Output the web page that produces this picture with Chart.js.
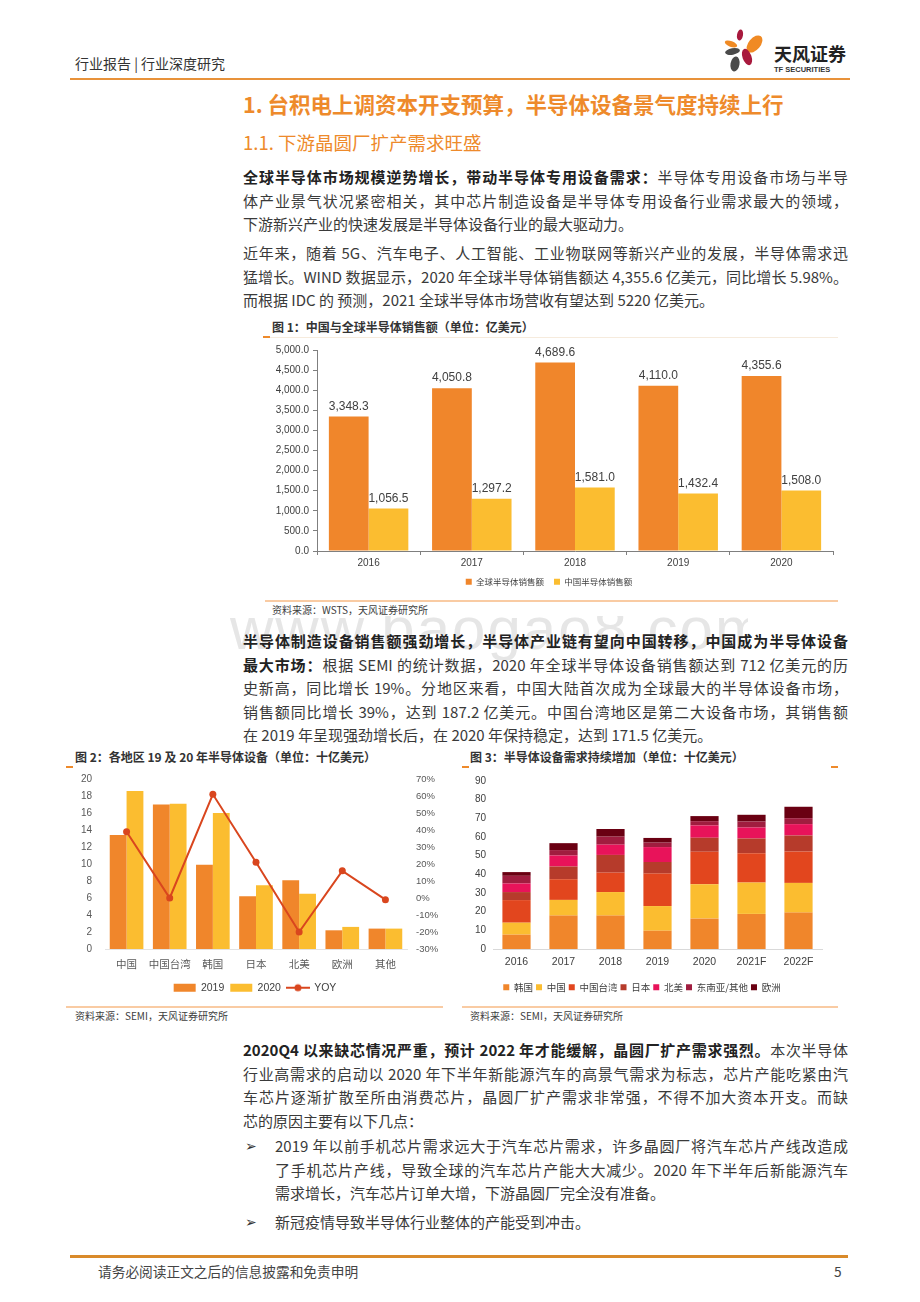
<!DOCTYPE html>
<html lang="zh-CN">
<head>
<meta charset="utf-8">
<title>半导体设备景气度</title>
<script src="https://cdn.jsdelivr.net/npm/chart.js@4.4.1/dist/chart.umd.min.js"></script>
<style>
  html, body { margin: 0; padding: 0; background: #fff; }
  body { width: 920px; height: 1302px; position: relative; overflow: hidden;
    font-family: "Noto Sans CJK SC", "Noto Sans", sans-serif; color: #3a3a3a; }
  .abs { position: absolute; }
  .hdr { left: 75px; top: 53px; font-size: 14px; line-height: 20px; color: #333; }
  .hdr-line { left: 70px; top: 78px; width: 780px; height: 2px; background: #E8923A; }
  .h1 { left: 243px; top: 89px; font-size: 21.5px; line-height: 30px; font-weight: bold; color: #EE8A2B; }
  .h2 { left: 243px; top: 129px; font-size: 18.5px; line-height: 26px; color: #EE8A2B; }
  .para { left: 243px; width: 605px; font-size: 15px; line-height: 23.5px; }
  .para .ln { text-align: justify; text-align-last: justify; }
  .para b { color: #222; font-weight: bold; }
  .bul { left: 245px; font-size: 14px; line-height: 23.5px; color: #333; }
  .bul-txt { left: 275px; width: 573px; font-size: 15px; line-height: 23.5px; }
  .bul-txt .ln { text-align: justify; text-align-last: justify; }
  .ftitle { font-size: 12px; line-height: 16px; font-weight: bold; color: #333; }
  .dash { height: 2px; width: 7px; background: #EE8A2B; }
  .faint { height: 1px; background: #F6EBDD; }
  .srcline { height: 2px; background: #F9CBA3; }
  .src { font-size: 10px; line-height: 14px; color: #404040; }
  .wm-box { left: 228px; top: 616px; width: 520px; height: 44px; overflow: hidden; }
  .wm { left: 2px; top: -17px; font-family: "Liberation Sans", Arial, sans-serif; font-size: 60px;
    line-height: 60px; color: #e6e6e6; letter-spacing: 2px; white-space: nowrap; }
  .foot-line { left: 70px; top: 1255px; width: 778px; height: 3px; background: #D98A2A; }
  .foot { top: 1261px; font-size: 13.7px; line-height: 20px; color: #444; }
  canvas.abs { display: block; }
</style>
</head>
<body>

<!-- 页眉 -->
<div class="abs hdr">行业报告 | 行业深度研究</div>
<svg class="abs" style="left:720px;top:28px" width="50" height="46" viewBox="0 0 50 46">
  <ellipse cx="20" cy="7" rx="3" ry="5.5" fill="#A8193D" transform="rotate(10 20 7)"/>
  <ellipse cx="34.5" cy="16" rx="6" ry="10" fill="#F08A24" transform="rotate(40 34.5 16)"/>
  <ellipse cx="11" cy="16" rx="2.8" ry="6.5" fill="#F08A24" transform="rotate(-70 11 16)"/>
  <ellipse cx="12.5" cy="23.5" rx="3.2" ry="7.5" fill="#4A4A4A" transform="rotate(80 12.5 23.5)"/>
  <ellipse cx="27" cy="29" rx="4.5" ry="8.5" fill="#A8193D" transform="rotate(-20 27 29)"/>
  <ellipse cx="15" cy="36" rx="4.5" ry="7.5" fill="#4A4A4A" transform="rotate(10 15 36)"/>
</svg>
<div class="abs" style="left:774px;top:42px;font-size:18px;line-height:22px;font-weight:bold;color:#222;">天风证券</div>
<div class="abs" style="left:774px;top:65px;font-family:'Liberation Sans',Arial,sans-serif;font-size:7.5px;line-height:10px;font-weight:bold;color:#333;">TF SECURITIES</div>
<div class="abs hdr-line"></div>

<div class="abs h1">1. 台积电上调资本开支预算，半导体设备景气度持续上行</div>
<div class="abs h2">1.1. 下游晶圆厂扩产需求旺盛</div>

<div class="abs para" style="top:165px">
  <div class="ln"><b>全球半导体市场规模逆势增长，带动半导体专用设备需求：</b>半导体专用设备市场与半导</div>
  <div class="ln">体产业景气状况紧密相关，其中芯片制造设备是半导体专用设备行业需求最大的领域，</div>
  <div>下游新兴产业的快速发展是半导体设备行业的最大驱动力。</div>
</div>

<div class="abs para" style="top:241px">
  <div class="ln">近年来，随着 5G、汽车电子、人工智能、工业物联网等新兴产业的发展，半导体需求迅</div>
  <div class="ln">猛增长。WIND 数据显示，2020 年全球半导体销售额达 4,355.6 亿美元，同比增长 5.98%。</div>
  <div>而根据 IDC 的 预测，2021 全球半导体市场营收有望达到 5220 亿美元。</div>
</div>

<!-- 图1 -->
<div class="abs ftitle" style="left:272px;top:319px">图 1：中国与全球半导体销售额（单位：亿美元）</div>
<div class="abs faint" style="left:265px;top:337px;width:573px"></div>
<div class="abs dash" style="left:263px;top:336px"></div>
<canvas id="fig1" class="abs" style="left:265px;top:340px" width="573" height="256"></canvas>
<div class="abs srcline" style="left:265px;top:600px;width:573px"></div>
<div class="abs src" style="left:272px;top:603px">资料来源：WSTS，天风证券研究所</div>

<div class="abs wm-box"><div class="abs wm">www.baogao8.com</div></div>

<div class="abs para" style="top:629px">
  <div class="ln"><b>半导体制造设备销售额强劲增长，半导体产业链有望向中国转移，中国成为半导体设备</b></div>
  <div class="ln"><b>最大市场：</b>根据 SEMI 的统计数据，2020 年全球半导体设备销售额达到 712 亿美元的历</div>
  <div class="ln">史新高，同比增长 19%。分地区来看，中国大陆首次成为全球最大的半导体设备市场，</div>
  <div class="ln">销售额同比增长 39%，达到 187.2 亿美元。中国台湾地区是第二大设备市场，其销售额</div>
  <div>在 2019 年呈现强劲增长后，在 2020 年保持稳定，达到 171.5 亿美元。</div>
</div>

<!-- 图2 -->
<div class="abs ftitle" style="left:75px;top:749px">图 2：各地区 19 及 20 年半导体设备（单位：十亿美元）</div>
<div class="abs dash" style="left:66px;top:766px"></div>
<canvas id="fig2" class="abs" style="left:65px;top:770px" width="380" height="233"></canvas>
<div class="abs srcline" style="left:66px;top:1006px;width:377px"></div>
<div class="abs src" style="left:75px;top:1009px">资料来源：SEMI，天风证券研究所</div>

<!-- 图3 -->
<div class="abs ftitle" style="left:470px;top:749px">图 3：半导体设备需求持续增加（单位：十亿美元）</div>
<div class="abs dash" style="left:462px;top:766px"></div>
<div class="abs dash" style="left:831px;top:766px"></div>
<canvas id="fig3" class="abs" style="left:462px;top:770px" width="376" height="232"></canvas>
<div class="abs srcline" style="left:462px;top:1006px;width:376px"></div>
<div class="abs src" style="left:470px;top:1009px">资料来源：SEMI，天风证券研究所</div>

<div class="abs para" style="top:1038px">
  <div class="ln"><b>2020Q4 以来缺芯情况严重，预计 2022 年才能缓解，晶圆厂扩产需求强烈。</b>本次半导体</div>
  <div class="ln">行业高需求的启动以 2020 年下半年新能源汽车的高景气需求为标志，芯片产能吃紧由汽</div>
  <div class="ln">车芯片逐渐扩散至所由消费芯片，晶圆厂扩产需求非常强，不得不加大资本开支。而缺</div>
  <div>芯的原因主要有以下几点：</div>
</div>

<div class="abs bul" style="top:1134px">➢</div>
<div class="abs bul-txt" style="top:1134px">
  <div class="ln">2019 年以前手机芯片需求远大于汽车芯片需求，许多晶圆厂将汽车芯片产线改造成</div>
  <div class="ln">了手机芯片产线，导致全球的汽车芯片产能大大减少。2020 年下半年后新能源汽车</div>
  <div>需求增长，汽车芯片订单大增，下游晶圆厂完全没有准备。</div>
</div>
<div class="abs bul" style="top:1210px">➢</div>
<div class="abs bul-txt" style="top:1210px">
  <div>新冠疫情导致半导体行业整体的产能受到冲击。</div>
</div>

<div class="abs foot-line"></div>
<div class="abs foot" style="left:98px">请务必阅读正文之后的信息披露和免责申明</div>
<div class="abs foot" style="left:834px">5</div>

<script>
// 图1：中国与全球半导体销售额（亿美元）
const fig1Years = ['2016', '2017', '2018', '2019', '2020'];
const fig1Global = [3348.3, 4050.8, 4689.6, 4110.0, 4355.6];
const fig1China = [1056.5, 1297.2, 1581.0, 1432.4, 1508.0];

// 图2：各地区 19 及 20 年半导体设备（十亿美元）
const fig2Regions = ['中国', '中国台湾', '韩国', '日本', '北美', '欧洲', '其他'];
const fig2Sales2019 = [13.4, 17.0, 9.9, 6.2, 8.1, 2.2, 2.4];
const fig2Sales2020 = [18.6, 17.1, 16.0, 7.5, 6.5, 2.6, 2.4];
const fig2Yoy = [0.39, 0.00, 0.61, 0.21, -0.20, 0.16, -0.01];

// 图3：半导体设备需求（十亿美元）
const fig3Years = ['2016', '2017', '2018', '2019', '2020', '2021F', '2022F'];
const fig3Korea = [7.7, 17.9, 17.9, 9.8, 16.3, 18.8, 19.5];
const fig3China = [6.4, 8.4, 12.6, 13.2, 18.4, 16.8, 15.9];
const fig3Taiwan = [12.1, 11.1, 10.4, 17.4, 17.4, 15.7, 16.8];
const fig3Japan = [4.3, 6.8, 9.5, 6.2, 7.5, 7.9, 8.6];
const fig3NorthAmerica = [4.6, 5.9, 5.5, 8.0, 6.6, 5.9, 6.1];
const fig3SeaOther = [4.1, 2.9, 4.3, 2.4, 2.3, 3.2, 3.2];
const fig3Europe = [2.0, 3.7, 4.1, 2.5, 2.7, 3.6, 6.1];

const NUM_FONT = "'Liberation Sans', Arial, sans-serif";
const CJK_FONT = "'Noto Sans CJK SC', 'Noto Sans', sans-serif";
const ORANGE = '#F0862B';
const YELLOW = '#FBBD30';

Chart.defaults.animation = false;
Chart.defaults.font.family = NUM_FONT;
Chart.defaults.color = '#595959';
Chart.defaults.plugins.tooltip.enabled = false;

function fmt1(v) {
  return v.toLocaleString('en-US', { minimumFractionDigits: 1, maximumFractionDigits: 1 });
}

// bar value labels (no datalabels plugin available offline)
const barValueLabels = {
  id: 'barValueLabels',
  afterDatasetsDraw(chart) {
    const ctx = chart.ctx;
    ctx.save();
    ctx.font = '12px ' + NUM_FONT;
    ctx.fillStyle = '#404040';
    ctx.textAlign = 'center';
    ctx.textBaseline = 'bottom';
    chart.data.datasets.forEach((ds, i) => {
      chart.getDatasetMeta(i).data.forEach((bar, j) => {
        ctx.fillText(fmt1(ds.data[j]), bar.x, bar.y - 4);
      });
    });
    ctx.restore();
  }
};

// Figure 1
new Chart(document.getElementById('fig1'), {
  type: 'bar',
  data: {
    labels: fig1Years,
    datasets: [
      { label: '全球半导体销售额', data: fig1Global, backgroundColor: ORANGE,
        categoryPercentage: 0.77, barPercentage: 1.0 },
      { label: '中国半导体销售额', data: fig1China, backgroundColor: YELLOW,
        categoryPercentage: 0.77, barPercentage: 1.0 }
    ]
  },
  options: {
    responsive: false,
    layout: { padding: { top: 10, right: 5, left: 0, bottom: 0 } },
    plugins: {
      legend: {
        position: 'bottom',
        labels: { boxWidth: 6, boxHeight: 6, padding: 10, color: '#404040',
          font: { family: CJK_FONT, size: 8.5 } }
      }
    },
    scales: {
      x: {
        grid: { drawOnChartArea: false, drawTicks: true, tickLength: 4, color: '#7f7f7f' },
        border: { color: '#7f7f7f' },
        ticks: { padding: 2, font: { size: 10 }, color: '#404040' },
        afterFit(scale) { scale.height = 16.5; }
      },
      y: {
        min: 0, max: 5000,
        grid: { drawOnChartArea: false, drawTicks: true, tickLength: 4, color: '#7f7f7f' },
        border: { color: '#7f7f7f' },
        ticks: { stepSize: 500, padding: 4, font: { size: 10 }, color: '#404040',
          callback: v => fmt1(v) },
        afterFit(scale) { scale.width = 52; }
      }
    }
  },
  plugins: [barValueLabels]
});

// legend icon for the YOY line: short line with a dot
const yoyIcon = document.createElement('canvas');
yoyIcon.width = 24;
yoyIcon.height = 10;
(function() {
  const c = yoyIcon.getContext('2d');
  c.strokeStyle = '#D9461E';
  c.fillStyle = '#D9461E';
  c.lineWidth = 2;
  c.beginPath();
  c.moveTo(0, 5);
  c.lineTo(24, 5);
  c.stroke();
  c.beginPath();
  c.arc(12, 5, 3.5, 0, Math.PI * 2);
  c.fill();
})();

// Figure 2
new Chart(document.getElementById('fig2'), {
  type: 'bar',
  data: {
    labels: fig2Regions,
    datasets: [
      { label: '2019', data: fig2Sales2019, backgroundColor: ORANGE, yAxisID: 'y',
        categoryPercentage: 0.78, barPercentage: 1.0, order: 1 },
      { label: '2020', data: fig2Sales2020, backgroundColor: YELLOW, yAxisID: 'y',
        categoryPercentage: 0.78, barPercentage: 1.0, order: 1 },
      { label: 'YOY', type: 'line', data: fig2Yoy, yAxisID: 'y1', order: 0,
        borderColor: '#D9461E', backgroundColor: '#D9461E', borderWidth: 2,
        pointRadius: 3.5, pointBackgroundColor: '#D9461E', pointBorderWidth: 0, tension: 0 }
    ]
  },
  options: {
    responsive: false,
    layout: { padding: { top: 9, right: 0, left: 0, bottom: 0 } },
    plugins: {
      legend: {
        position: 'bottom',
        labels: {
          usePointStyle: true, pointStyleWidth: 22, boxHeight: 8, padding: 6,
          color: '#404040', font: { size: 10.5 },
          generateLabels(chart) {
            const items = Chart.defaults.plugins.legend.labels.generateLabels(chart);
            items.sort((a, b) => a.datasetIndex - b.datasetIndex);
            items.forEach(it => {
              it.pointStyle = it.datasetIndex === 2 ? yoyIcon : 'rect';
              it.lineWidth = 0;
            });
            return items;
          }
        }
      }
    },
    scales: {
      x: {
        grid: { display: false, drawTicks: false },
        border: { color: '#e3e3e3' },
        ticks: { padding: 9, autoSkip: false, maxRotation: 0, minRotation: 0,
          font: { family: CJK_FONT, size: 10.5 }, color: '#595959' },
        afterFit(scale) { scale.height = 27.5; }
      },
      y: {
        position: 'left', min: 0, max: 20,
        grid: { display: false, drawTicks: true, tickLength: 10 },
        border: { display: false },
        ticks: { stepSize: 2, padding: 3, font: { size: 10 }, color: '#595959' },
        afterFit(scale) { scale.width = 40; }
      },
      y1: {
        position: 'right', min: -0.3, max: 0.7,
        grid: { display: false, drawTicks: true, tickLength: 6 },
        border: { display: false },
        ticks: { stepSize: 0.1, padding: 3, font: { size: 9.5 }, color: '#595959',
          callback: v => Math.round(v * 100) + '%' },
        afterFit(scale) { scale.width = 38; }
      }
    }
  }
});

// Figure 3
const fig3Series = [
  ['韩国', fig3Korea, ORANGE],
  ['中国', fig3China, YELLOW],
  ['中国台湾', fig3Taiwan, '#E2461E'],
  ['日本', fig3Japan, '#B63B2B'],
  ['北美', fig3NorthAmerica, '#E8135A'],
  ['东南亚/其他', fig3SeaOther, '#A01D3F'],
  ['欧洲', fig3Europe, '#6A0012']
];

new Chart(document.getElementById('fig3'), {
  type: 'bar',
  data: {
    labels: fig3Years,
    datasets: fig3Series.map(s => ({
      label: s[0], data: s[1], backgroundColor: s[2],
      categoryPercentage: 0.6, barPercentage: 1.0
    }))
  },
  options: {
    responsive: false,
    layout: { padding: { top: 11, right: 16, left: 0, bottom: 0 } },
    plugins: {
      legend: {
        position: 'bottom',
        labels: { boxWidth: 6, boxHeight: 6, padding: 3, color: '#404040',
          font: { family: CJK_FONT, size: 9.5 } }
      }
    },
    scales: {
      x: {
        stacked: true,
        grid: { display: false, drawTicks: false },
        border: { color: '#d9d9d9' },
        ticks: { padding: 7, autoSkip: false, maxRotation: 0, font: { size: 10.5 }, color: '#404040' },
        afterFit(scale) { scale.height = 30.5; }
      },
      y: {
        stacked: true, min: 0, max: 90,
        grid: { display: false, drawTicks: true, tickLength: 4 },
        border: { display: false },
        ticks: { stepSize: 10, padding: 3, font: { size: 10 }, color: '#404040' },
        afterFit(scale) { scale.width = 31; }
      }
    }
  }
});
</script>
</body>
</html>
